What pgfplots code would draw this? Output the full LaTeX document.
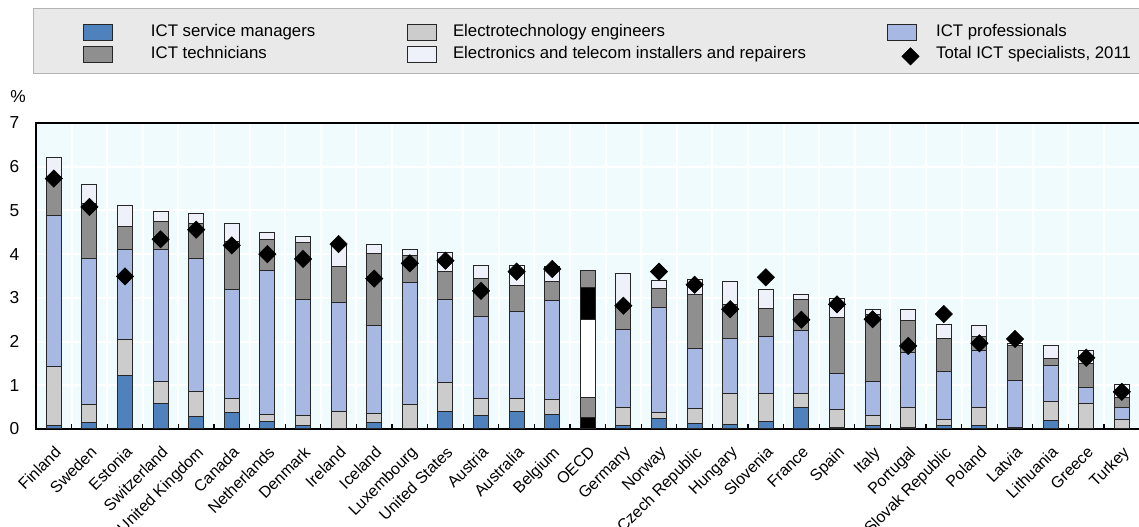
\documentclass[border=0pt]{standalone}
\usepackage{pgfplots}
\pgfplotsset{compat=1.18}
\usepackage{pgfplotstable}
\usepackage{fontspec}
\setmainfont{Liberation Sans}

\definecolor{csvc}{HTML}{4F81BD}
\definecolor{ceng}{HTML}{CCCCCC}
\definecolor{cprof}{HTML}{A7B9E3}
\definecolor{ctech}{HTML}{8F8F8F}
\definecolor{cinst}{HTML}{EEF1FA}
\definecolor{bgcyan}{HTML}{F0FBFD}
\definecolor{barline}{HTML}{262626}
\definecolor{legbg}{HTML}{E9E9E9}
\definecolor{legborder}{HTML}{B4B4B4}

% increments: svc, eng, prof, tech, inst (stacked)
\pgfplotstableread{
x svc eng prof tech inst
0 0.08 1.36 3.44 0.90 0.44
1 0.15 0.41 3.35 1.24 0.45
2 1.23 0.82 2.06 0.53 0.47
3 0.59 0.49 3.02 0.65 0.22
4 0.29 0.56 3.05 0.80 0.22
5 0.38 0.32 2.50 1.08 0.41
6 0.18 0.16 3.29 0.71 0.16
7 0.08 0.22 2.66 1.31 0.13
8 0.00 0.41 2.49 0.82 0.50
9 0.15 0.21 2.01 1.65 0.21
10 0.00 0.55 2.79 0.64 0.12
11 0.41 0.65 1.91 0.63 0.44
12 0.32 0.38 1.88 0.87 0.30
13 0.41 0.29 1.99 0.59 0.47
14 0.34 0.33 2.27 0.43 0.35
16 0.08 0.42 1.78 0.57 0.70
17 0.23 0.15 2.41 0.43 0.18
18 0.13 0.33 1.39 1.23 0.35
19 0.11 0.71 1.26 0.77 0.52
20 0.18 0.64 1.29 0.65 0.42
21 0.50 0.32 1.43 0.72 0.11
22 0.03 0.41 0.83 1.29 0.43
23 0.09 0.23 0.76 1.54 0.11
24 0.03 0.47 1.25 0.74 0.24
25 0.09 0.12 1.10 0.77 0.32
26 0.09 0.41 1.29 0.32 0.26
27 0.04 0.00 1.07 0.81 0.03
28 0.20 0.44 0.82 0.15 0.31
29 0.02 0.57 0.35 0.55 0.30
30 0.02 0.19 0.28 0.24 0.29
}\maindata

\pgfplotstableread{
x svc eng prof tech inst
15 0.27 0.46 1.78 0.73 0.39
}\oecddata

\pgfplotstableread{
x total
0 5.73
1 5.08
2 3.49
3 4.34
4 4.56
5 4.20
6 4.00
7 3.89
8 4.23
9 3.44
10 3.79
11 3.85
12 3.16
13 3.60
14 3.66
16 2.82
17 3.60
18 3.30
19 2.74
20 3.47
21 2.50
22 2.85
23 2.51
24 1.90
25 2.63
26 1.96
27 2.06
29 1.63
30 0.85
}\totaldata

\pgfplotsset{
  common/.style={
    width=827.7pt, height=229.5pt, scale only axis,
    xmin=-0.5, xmax=30.5, ymin=0, ymax=7,
    at={(0pt,0pt)}, anchor=south west,
    legend cell align=left,
    legend style={draw=none, fill=none, inner sep=0pt, outer sep=0pt,
      anchor=north west, row sep=3.75pt,
      nodes={inner sep=0pt, text height=9.5pt, text depth=3pt,
        font=\fontsize{12.6}{15}\selectfont}},
    legend image code/.code={\draw[#1] (0pt,-6pt) rectangle (21.75pt,6pt);},
  },
  barst/.style={draw=barline, line width=0.75pt},
  diamondlegend/.style={legend image code/.code={%
      \path[draw=none,fill=none] (0pt,-6pt) rectangle (21.75pt,6pt);
      \draw[black,fill=black,mark=square*,mark size=4.6pt,mark options={rotate=45,fill=black,draw=black}] plot coordinates {(17.25pt,-1.5pt)};}},
}

\begin{document}
\begin{tikzpicture}
\useasboundingbox (-27pt,-73.5pt) rectangle (827.25pt,321.75pt);
\fill[legbg] (-1.5pt,266.25pt) rectangle (830pt,315pt);
\draw[legborder, line width=0.75pt] (830pt,315pt) -- (-1.5pt,315pt) -- (-1.5pt,266.25pt) -- (830pt,266.25pt);

% main axis
\begin{axis}[ybar stacked, bar width=11.25pt, common,
  axis background/.style={fill=bgcyan},
  axis line style={black, line width=1.2pt},
  ytick={0,1,...,7},
  xtick={0,...,30},
  xticklabels={Finland, Sweden, Estonia, Switzerland, United Kingdom, Canada, Netherlands, Denmark, Ireland, Iceland, Luxembourg, United States, Austria, Australia, Belgium, OECD, Germany, Norway, Czech Republic, Hungary, Slovenia, France, Spain, Italy, Portugal, Slovak Republic, Poland, Latvia, Lithuania, Greece, Turkey},
  minor xtick={-0.5,0.5,...,30.5},
  xtick pos=bottom, ytick pos=left,
  major tick length=0pt, minor tick length=3.75pt, tick align=inside,
  minor x tick style={black, line width=1pt},
  ymajorgrids, xminorgrids,
  major grid style={white, line width=1.5pt},
  minor grid style={white, line width=1.5pt},
  /pgf/number format/assume math mode=true,
  yticklabel style={xshift=-9pt, font=\fontsize{13}{15}\selectfont},
  xticklabel style={rotate=45, anchor=north east, inner sep=0pt, xshift=-8.5pt, yshift=-8.5pt, font=\fontsize{12}{14}\selectfont},
  ylabel={\%},
  ylabel style={rotate=-90, at={(axis description cs:0,1)}, anchor=center, xshift=-13.5pt, yshift=19.5pt, font=\fontsize{13}{15}\selectfont},
  legend style={at={(axis description cs:0.04259,1.3235)}, column sep=28.5pt},
]
\addplot[barst, fill=csvc, forget plot] table[x=x, y=svc] {\maindata};
\addplot[barst, fill=ceng, forget plot] table[x=x, y=eng] {\maindata};
\addplot[barst, fill=cprof, forget plot] table[x=x, y=prof] {\maindata};
\addplot[barst, fill=ctech, forget plot] table[x=x, y=tech] {\maindata};
\addplot[barst, fill=cinst, forget plot] table[x=x, y=inst] {\maindata};
\addlegendimage{barst, fill=csvc}
\addlegendentry{ICT service managers}
\addlegendimage{barst, fill=ctech}
\addlegendentry{ICT technicians}
\end{axis}

% OECD overlay
\begin{axis}[ybar stacked, bar width=11.25pt, common, hide axis,
  legend style={at={(axis description cs:0.33617,1.3235)}, column sep=12pt},
]
\addplot[barst, fill=black, forget plot] table[x=x, y=svc] {\oecddata};
\addplot[barst, fill=ctech, forget plot] table[x=x, y=eng] {\oecddata};
\addplot[barst, fill=white, forget plot] table[x=x, y=prof] {\oecddata};
\addplot[barst, fill=black, forget plot] table[x=x, y=tech] {\oecddata};
\addplot[barst, fill=ctech, forget plot] table[x=x, y=inst] {\oecddata};
\addlegendimage{barst, fill=ceng}
\addlegendentry{Electrotechnology engineers}
\addlegendimage{barst, fill=cinst}
\addlegendentry{Electronics and telecom installers and repairers}
\end{axis}

% totals overlay
\begin{axis}[common, hide axis,
  legend style={at={(axis description cs:0.77111,1.3235)}, column sep=12.75pt},
]
\addplot[only marks, mark=square*, mark size=4.6pt, mark options={rotate=45, fill=black, draw=black}, forget plot] table[x=x, y=total] {\totaldata};
\addlegendimage{barst, fill=cprof}
\addlegendentry{ICT professionals}
\addlegendimage{diamondlegend}
\addlegendentry{Total ICT specialists, 2011}
\end{axis}
\end{tikzpicture}
\end{document}
